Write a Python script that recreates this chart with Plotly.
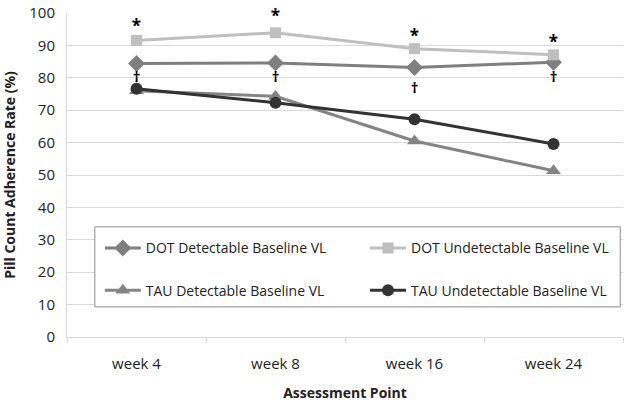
import plotly.graph_objects as go

categories = ["week 4", "week 8", "week 16", "week 24"]
dot_detectable = [84.4, 84.6, 83.2, 84.8]
dot_undetectable = [91.5, 93.9, 89.0, 87.1]
tau_detectable = [76.0, 74.3, 60.5, 51.3]
tau_undetectable = [76.6, 72.3, 67.2, 59.6]

star_y = [95.3, 98.4, 92.5, 90.4]
dagger_y = [79.9, 79.9, 76.5, 79.9]

font = "Open Sans"

fig = go.Figure()
series = [
    ("DOT Detectable Baseline VL", dot_detectable, "#7f7f7f", "diamond", 13, "legend"),
    ("DOT Undetectable Baseline VL", dot_undetectable, "#bfbfbf", "square", 11, "legend2"),
    ("TAU Detectable Baseline VL", tau_detectable, "#848484", "triangle-up", 13, "legend"),
    ("TAU Undetectable Baseline VL", tau_undetectable, "#333333", "circle", 12, "legend2"),
]
for name, vals, color, sym, size, lg in series:
    fig.add_trace(go.Scatter(
        x=categories, y=vals, name=name, mode="lines+markers",
        line=dict(color=color, width=3),
        marker=dict(symbol=sym, size=size, color=color),
        legend=lg, legendgroup=name,
    ))

fig.add_trace(go.Scatter(
    x=categories, y=star_y, mode="text", text=["<b>*</b>"] * 4,
    textfont=dict(family=font, size=17, color="#000000"),
    showlegend=False, cliponaxis=False, hoverinfo="skip",
))
fig.add_trace(go.Scatter(
    x=categories, y=dagger_y, mode="text", text=["<b>†</b>"] * 4,
    textfont=dict(family=font, size=15, color="#000000"),
    showlegend=False, cliponaxis=False, hoverinfo="skip",
))

legend_common = dict(
    orientation="v", yanchor="top", y=0.323, xanchor="left",
    bgcolor="rgba(0,0,0,0)", borderwidth=0,
    font=dict(family=font, size=14, color="#222222"),
    tracegroupgap=21, itemwidth=36, traceorder="grouped",
)

fig.add_shape(type="rect", xref="paper", yref="paper",
              x0=0.050, x1=0.995, y0=0.093, y1=0.34,
              line=dict(color="#8c8c8c", width=1), fillcolor="white", layer="above")

fig.update_layout(
    width=630, height=402,
    margin=dict(l=67, r=7, t=13, b=65),
    paper_bgcolor="white", plot_bgcolor="white",
    font=dict(family=font, size=14, color="#222222"),
    showlegend=True,
    legend=dict(x=0.059, **legend_common),
    legend2=dict(x=0.536, **legend_common),
    xaxis=dict(
        type="category", range=[-0.5, 3.5], automargin=False,
        showline=True, linecolor="#d9d9d9", linewidth=1,
        ticks="outside", tickson="boundaries", tickcolor="#d9d9d9", ticklen=5,
        showgrid=False, zeroline=False, ticklabelstandoff=13,
        tickfont=dict(family=font, size=15, color="#222222"),
        title=dict(text="<b>Assessment Point</b>", font=dict(family=font, size=14, color="#222222"), standoff=16),
    ),
    yaxis=dict(
        range=[0, 100], dtick=10, showgrid=True, gridcolor="#d9d9d9", gridwidth=1,
        showline=True, linecolor="#d9d9d9", zeroline=False, automargin=False,
        tickfont=dict(family=font, size=15, color="#222222"),
        ticks="", ticklabelstandoff=8,
        title=dict(text="<b>Pill Count Adherence Rate (%)</b>", font=dict(family=font, size=14, color="#222222"), standoff=10),
    ),
)

fig.write_html(
    "out.html",
    config={"displayModeBar": False},
    post_script="document.body.style.margin='0';document.body.style.overflow='hidden';",
)
